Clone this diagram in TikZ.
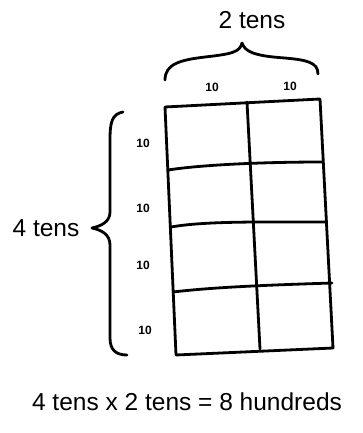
\documentclass[tikz,border=0pt]{standalone}
\usepackage{fontspec}
\setmainfont{Liberation Sans}
\begin{document}
\begin{tikzpicture}[x=1pt,y=-1pt,
  ink/.style={line width=2.8pt,line cap=round,line join=round,black},
  big/.style={font=\fontsize{24.5}{28}\selectfont},
  small/.style={font=\fontsize{12}{14}\selectfont\bfseries}]
\useasboundingbox[fill=white] (0,0) rectangle (362,433);
% grid corners
\coordinate (a0) at (165,107); \coordinate (a1) at (168,170); \coordinate (a2) at (171,227); \coordinate (a3) at (173,292); \coordinate (a4) at (176,355);
\coordinate (m0) at (247,102); \coordinate (m4) at (260,349);
\coordinate (b0) at (320,99); \coordinate (b1) at (323,162); \coordinate (b2) at (325,222); \coordinate (b3) at (332,283); \coordinate (b4) at (333,348);
\draw[ink] (a0) -- (b0) -- (b4) -- (a4) -- cycle;
\draw[ink] (m0) -- (m4);
\draw[ink] (a1) .. controls (200,165) and (260,162) .. (b1);
\draw[ink] (a2) .. controls (205,221) and (260,222) .. (b2);
\draw[ink] (a3) .. controls (215,287) and (270,285) .. (b3);
% top brace
\draw[ink] (165,80) .. controls (165,64) and (180,60) .. (205,57) .. controls (232,54) and (240,52) .. (242,43) .. controls (245,52) and (255,56) .. (285,58) .. controls (306,60) and (318,62) .. (318,74);
\node[big] (twotens) at (252,20) {2 tens};
\node[small] (c1) at (212,87) {10};
\node[small] (c2) at (290,86) {10};
% left brace
\draw[ink] (123,112) .. controls (112,114) and (110,122) .. (110,140) -- (110,212) .. controls (110,222) and (101,226) .. (92,228) .. controls (101,230) and (110,234) .. (110,245) -- (110,338) .. controls (110,350) and (116,355) .. (127,355);
\node[big] (fourtens) at (46,228) {4 tens};
\node[small] (r1) at (143,143) {10};
\node[small] (r2) at (143,208) {10};
\node[small] (r3) at (143,265) {10};
\node[small] (r4) at (145,330) {10};
% equation
\node[big] (eq) at (187,402) {4 tens x 2 tens = 8 hundreds};
\end{tikzpicture}
\end{document}
